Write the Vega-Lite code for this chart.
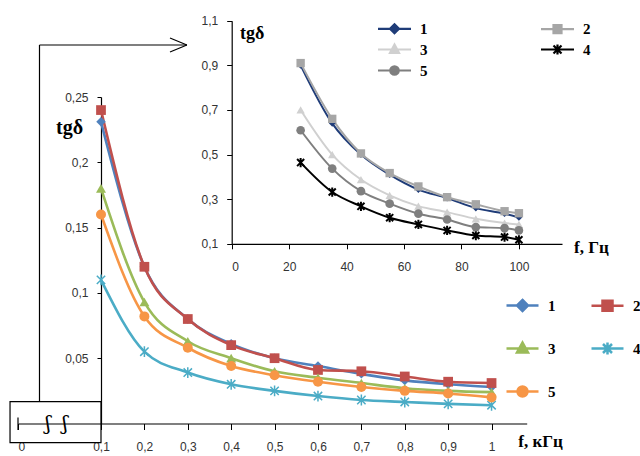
{
  "$schema": "https://vega.github.io/schema/vega-lite/v6.json",
  "width": 640,
  "height": 456,
  "padding": 0,
  "autosize": {"type": "none"},
  "background": "white",
  "config": {
    "view": {"stroke": null},
    "axis": {"grid": false, "domainColor": "#000", "domainWidth": 1.2, "tickColor": "#000", "tickWidth": 1, "labelFont": "Liberation Sans", "labelFontSize": 12, "labelColor": "#333", "labelOverlap": false, "titleFont": "Liberation Serif", "titleFontWeight": "bold", "titleColor": "#000", "titleAngle": 0, "titleAlign": "center", "titleBaseline": "middle"},
    "legend": {"symbolLimit": 0}
  },
  "datasets": {
    "main": [
      {"f": 0.1, "s": "1", "v": 0.231}, {"f": 0.2, "s": "1", "v": 0.12}, {"f": 0.3, "s": "1", "v": 0.08}, {"f": 0.4, "s": "1", "v": 0.061}, {"f": 0.5, "s": "1", "v": 0.05}, {"f": 0.6, "s": "1", "v": 0.044}, {"f": 0.7, "s": "1", "v": 0.038}, {"f": 0.8, "s": "1", "v": 0.033}, {"f": 0.9, "s": "1", "v": 0.03}, {"f": 1.0, "s": "1", "v": 0.028},
      {"f": 0.1, "s": "2", "v": 0.24}, {"f": 0.2, "s": "2", "v": 0.12}, {"f": 0.3, "s": "2", "v": 0.08}, {"f": 0.4, "s": "2", "v": 0.06}, {"f": 0.5, "s": "2", "v": 0.05}, {"f": 0.6, "s": "2", "v": 0.041}, {"f": 0.7, "s": "2", "v": 0.04}, {"f": 0.8, "s": "2", "v": 0.036}, {"f": 0.9, "s": "2", "v": 0.032}, {"f": 1.0, "s": "2", "v": 0.031},
      {"f": 0.1, "s": "3", "v": 0.18}, {"f": 0.2, "s": "3", "v": 0.093}, {"f": 0.3, "s": "3", "v": 0.063}, {"f": 0.4, "s": "3", "v": 0.05}, {"f": 0.5, "s": "3", "v": 0.04}, {"f": 0.6, "s": "3", "v": 0.035}, {"f": 0.7, "s": "3", "v": 0.031}, {"f": 0.8, "s": "3", "v": 0.027}, {"f": 0.9, "s": "3", "v": 0.025}, {"f": 1.0, "s": "3", "v": 0.024},
      {"f": 0.1, "s": "4", "v": 0.11}, {"f": 0.2, "s": "4", "v": 0.055}, {"f": 0.3, "s": "4", "v": 0.039}, {"f": 0.4, "s": "4", "v": 0.03}, {"f": 0.5, "s": "4", "v": 0.025}, {"f": 0.6, "s": "4", "v": 0.021}, {"f": 0.7, "s": "4", "v": 0.018}, {"f": 0.8, "s": "4", "v": 0.0165}, {"f": 0.9, "s": "4", "v": 0.015}, {"f": 1.0, "s": "4", "v": 0.014},
      {"f": 0.1, "s": "5", "v": 0.16}, {"f": 0.2, "s": "5", "v": 0.082}, {"f": 0.3, "s": "5", "v": 0.058}, {"f": 0.4, "s": "5", "v": 0.044}, {"f": 0.5, "s": "5", "v": 0.037}, {"f": 0.6, "s": "5", "v": 0.032}, {"f": 0.7, "s": "5", "v": 0.028}, {"f": 0.8, "s": "5", "v": 0.025}, {"f": 0.9, "s": "5", "v": 0.023}, {"f": 1.0, "s": "5", "v": 0.02}
    ],
    "inset": [
      {"x": 24, "s": "1", "y": 0.9}, {"x": 35, "s": "1", "y": 0.64}, {"x": 45, "s": "1", "y": 0.5}, {"x": 55, "s": "1", "y": 0.41}, {"x": 65, "s": "1", "y": 0.343}, {"x": 75, "s": "1", "y": 0.305}, {"x": 85, "s": "1", "y": 0.26}, {"x": 95, "s": "1", "y": 0.235}, {"x": 100, "s": "1", "y": 0.218},
      {"x": 24, "s": "2", "y": 0.91}, {"x": 35, "s": "2", "y": 0.66}, {"x": 45, "s": "2", "y": 0.505}, {"x": 55, "s": "2", "y": 0.417}, {"x": 65, "s": "2", "y": 0.357}, {"x": 75, "s": "2", "y": 0.309}, {"x": 85, "s": "2", "y": 0.277}, {"x": 95, "s": "2", "y": 0.246}, {"x": 100, "s": "2", "y": 0.237},
      {"x": 24, "s": "3", "y": 0.7}, {"x": 35, "s": "3", "y": 0.5}, {"x": 45, "s": "3", "y": 0.388}, {"x": 55, "s": "3", "y": 0.317}, {"x": 65, "s": "3", "y": 0.269}, {"x": 75, "s": "3", "y": 0.242}, {"x": 85, "s": "3", "y": 0.212}, {"x": 95, "s": "3", "y": 0.193}, {"x": 100, "s": "3", "y": 0.187},
      {"x": 24, "s": "4", "y": 0.464}, {"x": 35, "s": "4", "y": 0.332}, {"x": 45, "s": "4", "y": 0.268}, {"x": 55, "s": "4", "y": 0.217}, {"x": 65, "s": "4", "y": 0.187}, {"x": 75, "s": "4", "y": 0.16}, {"x": 85, "s": "4", "y": 0.137}, {"x": 95, "s": "4", "y": 0.13}, {"x": 100, "s": "4", "y": 0.118},
      {"x": 24, "s": "5", "y": 0.609}, {"x": 35, "s": "5", "y": 0.437}, {"x": 45, "s": "5", "y": 0.336}, {"x": 55, "s": "5", "y": 0.28}, {"x": 65, "s": "5", "y": 0.235}, {"x": 75, "s": "5", "y": 0.209}, {"x": 85, "s": "5", "y": 0.175}, {"x": 95, "s": "5", "y": 0.17}, {"x": 100, "s": "5", "y": 0.16}
    ]
  },
  "layer": [
    {
      "layer": [
        {
          "data": {"name": "main"},
          "encoding": {
            "x": {"field": "f", "type": "quantitative",
              "scale": {"domain": [0, 0.1, 1.081], "range": [18, 101, 526.7], "nice": false, "zero": false},
              "axis": {"orient": "bottom", "offset": -32.5, "values": [0, 0.1, 0.2, 0.3, 0.4, 0.5, 0.6, 0.7, 0.8, 0.9, 1],
                "labelExpr": "replace(format(datum.value, '~g'), '.', ',')", "tickSize": 6, "labelPadding": 12,
                "title": "f, кГц", "titleX": 540, "titleY": 18, "titleFontSize": 17}},
            "y": {"field": "v", "type": "quantitative",
              "scale": {"domain": [0, 0.25], "range": [423.5, 97], "nice": false, "zero": false},
              "axis": {"orient": "left", "offset": -101, "values": [0.05, 0.1, 0.15, 0.2, 0.25],
                "labelExpr": "replace(format(datum.value, '~g'), '.', ',')", "tickSize": 4, "labelPadding": 9,
                "title": "tgδ", "titleX": -32, "titleY": 127, "titleFontSize": 20}},
            "color": {"field": "s", "type": "nominal",
              "scale": {"domain": ["1", "2", "3", "4", "5"], "range": ["#4F81BD", "#C0504D", "#9BBB59", "#4BACC6", "#F79646"]},
              "legend": {"orient": "none", "direction": "horizontal", "legendX": 515, "legendY": 298, "columns": 2, "columnPadding": 30, "rowPadding": 21, "title": null, "padding": 0,
                "symbolSize": 100, "labelFont": "Liberation Serif", "labelFontWeight": "bold", "labelFontSize": 15, "labelColor": "#000", "labelOffset": 18,
                "encode": {"symbols": {"update": {
                  "shape": {"signal": "datum.value==='1'?'M-3.2,0H3.2M0,-1.1L1.1,0L0,1.1L-1.1,0Z':datum.value==='2'?'M-3.2,0H3.2M-1,-1H1V1H-1Z':datum.value==='3'?'M-3.2,0H3.2M0,-1.2L1.1,0.8H-1.1Z':datum.value==='4'?'M-3.2,0H3.2M-0.9,-0.9L0.9,0.9M-0.9,0.9L0.9,-0.9M0,-1.2V1.2':'M-3.2,0H3.2M1,0A1,1 0 1,1 -1,0A1,1 0 1,1 1,0Z'"},
                  "fill": {"signal": "datum.value==='1'?'#4F81BD':datum.value==='2'?'#C0504D':datum.value==='3'?'#9BBB59':datum.value==='4'?'#4BACC6':'#F79646'"},
                  "stroke": {"signal": "datum.value==='1'?'#4F81BD':datum.value==='2'?'#C0504D':datum.value==='3'?'#9BBB59':datum.value==='4'?'#4BACC6':'#F79646'"},
                  "strokeWidth": {"value": 2.5},
                  "opacity": {"value": 1}
                }}}}}
          },
          "layer": [
            {"mark": {"type": "line", "interpolate": "monotone", "strokeWidth": 2.6}},
            {"transform": [{"filter": "datum.s === '1'"}], "mark": {"type": "point", "filled": true, "shape": "diamond", "size": 90, "opacity": 1}},
            {"transform": [{"filter": "datum.s === '2'"}], "mark": {"type": "point", "filled": true, "shape": "square", "size": 95, "opacity": 1}},
            {"transform": [{"filter": "datum.s === '3'"}], "mark": {"type": "point", "filled": true, "shape": "triangle-up", "size": 100, "opacity": 1}},
            {"transform": [{"filter": "datum.s === '4'"}], "mark": {"type": "point", "filled": false, "shape": "M-1,-1L1,1M-1,1L1,-1M0,-1.3V1.3", "size": 70, "strokeWidth": 1.5, "opacity": 1}},
            {"transform": [{"filter": "datum.s === '5'"}], "mark": {"type": "point", "filled": true, "shape": "circle", "size": 100, "opacity": 1}}
          ]
        },
        {"data": {"values": [{}]}, "mark": {"type": "rect", "fill": null, "stroke": "#000", "strokeWidth": 1.2, "clip": false},
          "encoding": {"x": {"datum": -0.0096, "type": "quantitative"}, "x2": {"datum": 0.1}, "y": {"datum": 0.0167, "type": "quantitative"}, "y2": {"datum": -0.0147}}},
        {"data": {"values": [{}]}, "mark": {"type": "rule", "color": "#000", "strokeWidth": 1.2},
          "encoding": {"x": {"datum": 0.0259, "type": "quantitative"}, "y": {"datum": 0.0167, "type": "quantitative"}, "y2": {"datum": 0.2898}}},
        {"data": {"values": [{}]}, "mark": {"type": "rule", "color": "#000", "strokeWidth": 1.2},
          "encoding": {"x": {"datum": 0.0259, "type": "quantitative"}, "x2": {"datum": 0.298}, "y": {"datum": 0.2898, "type": "quantitative"}}},
        {"data": {"values": [{}]}, "mark": {"type": "rule", "color": "#000", "strokeWidth": 1.2},
          "encoding": {"x": {"datum": 0.259, "type": "quantitative"}, "x2": {"datum": 0.298}, "y": {"datum": 0.2952, "type": "quantitative"}, "y2": {"datum": 0.2898}}},
        {"data": {"values": [{}]}, "mark": {"type": "rule", "color": "#000", "strokeWidth": 1.2},
          "encoding": {"x": {"datum": 0.259, "type": "quantitative"}, "x2": {"datum": 0.298}, "y": {"datum": 0.2845, "type": "quantitative"}, "y2": {"datum": 0.2898}}},
        {"data": {"values": [{}]}, "mark": {"type": "rule", "color": "#000", "strokeWidth": 1.2},
          "encoding": {"x": {"datum": 0, "type": "quantitative"}, "y": {"datum": 0.0046, "type": "quantitative"}, "y2": {"datum": -0.005}}},
        {"data": {"values": [{}]}, "mark": {"type": "text", "text": "ʃ", "font": "DejaVu Serif", "fontSize": 20, "color": "#000", "baseline": "middle", "align": "center"},
          "encoding": {"x": {"datum": 0.0361, "type": "quantitative"}, "y": {"datum": 0.0, "type": "quantitative"}}},
        {"data": {"values": [{}]}, "mark": {"type": "text", "text": "ʃ", "font": "DejaVu Serif", "fontSize": 20, "color": "#000", "baseline": "middle", "align": "center"},
          "encoding": {"x": {"datum": 0.0566, "type": "quantitative"}, "y": {"datum": 0.0, "type": "quantitative"}}}
      ]
    },
    {
      "data": {"name": "inset"},
      "encoding": {
        "x": {"field": "x", "type": "quantitative",
          "scale": {"domain": [0, 115], "range": [231.7, 562], "nice": false, "zero": false},
          "axis": {"orient": "bottom", "offset": -212.2, "values": [0, 20, 40, 60, 80, 100], "tickSize": 5, "labelPadding": 13,
            "title": "f, Гц", "titleX": 591, "titleY": 4, "titleFontSize": 17}},
        "y": {"field": "y", "type": "quantitative",
          "scale": {"domain": [0.1, 1.1], "range": [243.8, 20.7], "nice": false, "zero": false},
          "axis": {"orient": "left", "offset": -231.7, "values": [0.1, 0.3, 0.5, 0.7, 0.9, 1.1],
            "labelExpr": "replace(format(datum.value, '~g'), '.', ',')", "tickSize": 5, "labelPadding": 9,
            "title": "tgδ", "titleX": 20, "titleY": 33, "titleFontSize": 18}},
        "color": {"field": "s", "type": "nominal",
          "scale": {"domain": ["1", "2", "3", "4", "5"], "range": ["#1F3C78", "#A6A6A6", "#D0D0D0", "#000000", "#7F7F7F"]},
          "legend": {"orient": "none", "direction": "horizontal", "legendX": 387, "legendY": 21, "columns": 2, "columnPadding": 108, "rowPadding": 2, "title": null, "padding": 0,
            "symbolSize": 100, "labelFont": "Liberation Serif", "labelFontWeight": "bold", "labelFontSize": 15, "labelColor": "#000", "labelOffset": 18,
            "encode": {"symbols": {"update": {
              "shape": {"signal": "datum.value==='1'?'M-3.3,0H3.3M0,-0.9L0.9,0L0,0.9L-0.9,0Z':datum.value==='2'?'M-3.3,0H3.3M-0.8,-0.8H0.8V0.8H-0.8Z':datum.value==='3'?'M-3.3,0H3.3M0,-1L0.9,0.7H-0.9Z':datum.value==='4'?'M-3.3,0H3.3M-0.8,-0.8L0.8,0.8M-0.8,0.8L0.8,-0.8M0,-1V1':'M-3.3,0H3.3M0.85,0A0.85,0.85 0 1,1 -0.85,0A0.85,0.85 0 1,1 0.85,0Z'"},
              "fill": {"signal": "datum.value==='1'?'#1F3C78':datum.value==='2'?'#A6A6A6':datum.value==='3'?'#D0D0D0':datum.value==='4'?'#000000':'#7F7F7F'"},
              "stroke": {"signal": "datum.value==='1'?'#1F3C78':datum.value==='2'?'#A6A6A6':datum.value==='3'?'#D0D0D0':datum.value==='4'?'#000000':'#7F7F7F'"},
              "strokeWidth": {"value": 2.2},
              "opacity": {"value": 1}
            }}}}}
      },
      "layer": [
        {"mark": {"type": "line", "interpolate": "monotone", "strokeWidth": 2}},
        {"transform": [{"filter": "datum.s === '1'"}], "mark": {"type": "point", "filled": true, "shape": "diamond", "size": 45, "opacity": 1}},
        {"transform": [{"filter": "datum.s === '2'"}], "mark": {"type": "point", "filled": true, "shape": "square", "size": 70, "opacity": 1}},
        {"transform": [{"filter": "datum.s === '3'"}], "mark": {"type": "point", "filled": true, "shape": "triangle-up", "size": 70, "opacity": 1}},
        {"transform": [{"filter": "datum.s === '4'"}], "mark": {"type": "point", "filled": false, "shape": "M-1,-1L1,1M-1,1L1,-1M0,-1.3V1.3", "size": 50, "strokeWidth": 2, "opacity": 1}},
        {"transform": [{"filter": "datum.s === '5'"}], "mark": {"type": "point", "filled": true, "shape": "circle", "size": 75, "opacity": 1}}
      ]
    }
  ],
  "resolve": {
    "scale": {"x": "independent", "y": "independent", "color": "independent"},
    "axis": {"x": "independent", "y": "independent"},
    "legend": {"color": "independent"}
  }
}
